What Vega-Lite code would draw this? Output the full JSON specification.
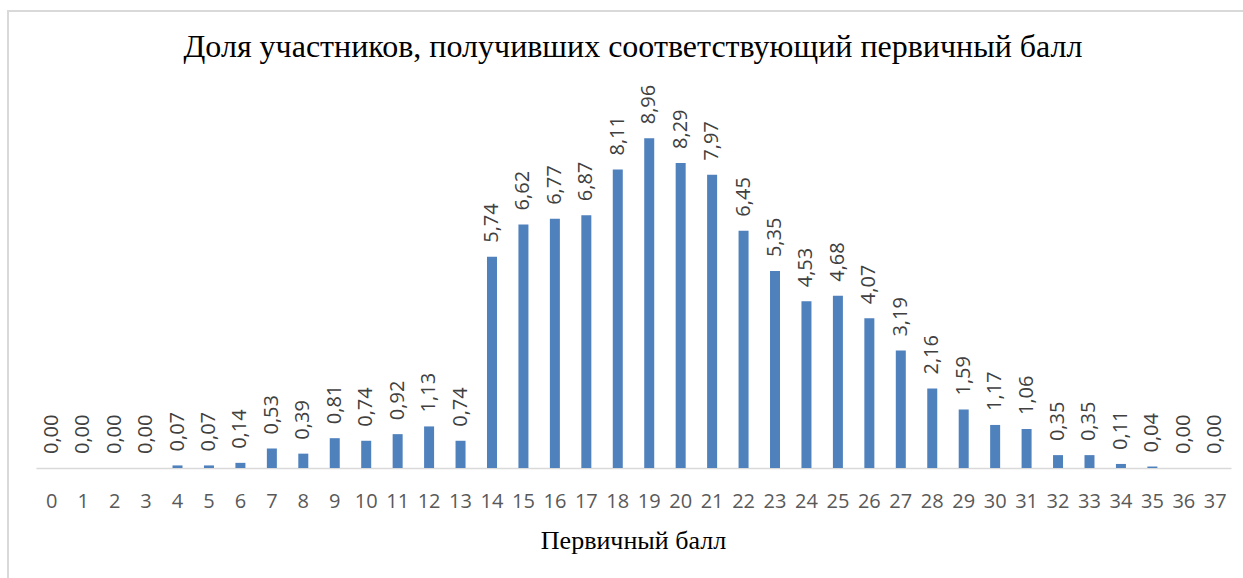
{
  "$schema": "https://vega.github.io/schema/vega-lite/v6.json",
  "width": 1240,
  "height": 575,
  "autosize": {"type": "none"},
  "padding": {"left": 8, "top": 11, "right": 0, "bottom": 0},
  "background": "white",
  "title": {
    "text": "Доля участников, получивших соответствующий первичный балл",
    "font": "Liberation Serif",
    "fontSize": 32,
    "fontWeight": "normal",
    "color": "#000000",
    "anchor": "middle",
    "frame": "group",
    "offset": 0,
    "dx": 5,
    "dy": 53
  },
  "config": {
    "view": {"stroke": "#d9d9d9", "strokeWidth": 2},
    "locale": {"number": {"decimal": ",", "thousands": " ", "grouping": [3], "currency": ["", ""]}}
  },
  "data": {
    "values": [
      {"score": 0, "share": 0}, {"score": 1, "share": 0}, {"score": 2, "share": 0}, {"score": 3, "share": 0},
      {"score": 4, "share": 0.07}, {"score": 5, "share": 0.07}, {"score": 6, "share": 0.14}, {"score": 7, "share": 0.53},
      {"score": 8, "share": 0.39}, {"score": 9, "share": 0.81}, {"score": 10, "share": 0.74}, {"score": 11, "share": 0.92},
      {"score": 12, "share": 1.13}, {"score": 13, "share": 0.74}, {"score": 14, "share": 5.74}, {"score": 15, "share": 6.62},
      {"score": 16, "share": 6.77}, {"score": 17, "share": 6.87}, {"score": 18, "share": 8.11}, {"score": 19, "share": 8.96},
      {"score": 20, "share": 8.29}, {"score": 21, "share": 7.97}, {"score": 22, "share": 6.45}, {"score": 23, "share": 5.35},
      {"score": 24, "share": 4.53}, {"score": 25, "share": 4.68}, {"score": 26, "share": 4.07}, {"score": 27, "share": 3.19},
      {"score": 28, "share": 2.16}, {"score": 29, "share": 1.59}, {"score": 30, "share": 1.17}, {"score": 31, "share": 1.06},
      {"score": 32, "share": 0.35}, {"score": 33, "share": 0.35}, {"score": 34, "share": 0.11}, {"score": 35, "share": 0.04},
      {"score": 36, "share": 0}, {"score": 37, "share": 0}
    ]
  },
  "encoding": {
    "x": {
      "field": "score",
      "type": "ordinal",
      "sort": "ascending",
      "scale": {"paddingInner": 0, "paddingOuter": 0, "range": [28, 1223]},
      "axis": {
        "title": "Первичный балл",
        "titleFont": "Liberation Serif",
        "titleFontSize": 26,
        "titleFontWeight": "normal",
        "titleColor": "#000000",
        "titlePadding": 16,
        "titleX": 625,
        "labelAngle": 0,
        "labelFont": "Open Sans",
        "labelFontSize": 20,
        "labelColor": "#595959",
        "labelPadding": 23,
        "ticks": false,
        "offset": -118,
        "domainColor": "#d9d9d9",
        "domainWidth": 1.5
      }
    },
    "y": {
      "field": "share",
      "type": "quantitative",
      "scale": {"domain": [0, 10], "nice": false, "range": [457, 89]},
      "axis": null
    }
  },
  "layer": [
    {"mark": {"type": "bar", "size": 10, "color": "#4f81bd"}},
    {
      "mark": {"type": "text", "angle": 270, "align": "left", "baseline": "middle", "dx": 14, "font": "Open Sans", "fontSize": 20, "color": "#404040"},
      "encoding": {"text": {"field": "share", "type": "quantitative", "format": ".2f"}}
    }
  ]
}
